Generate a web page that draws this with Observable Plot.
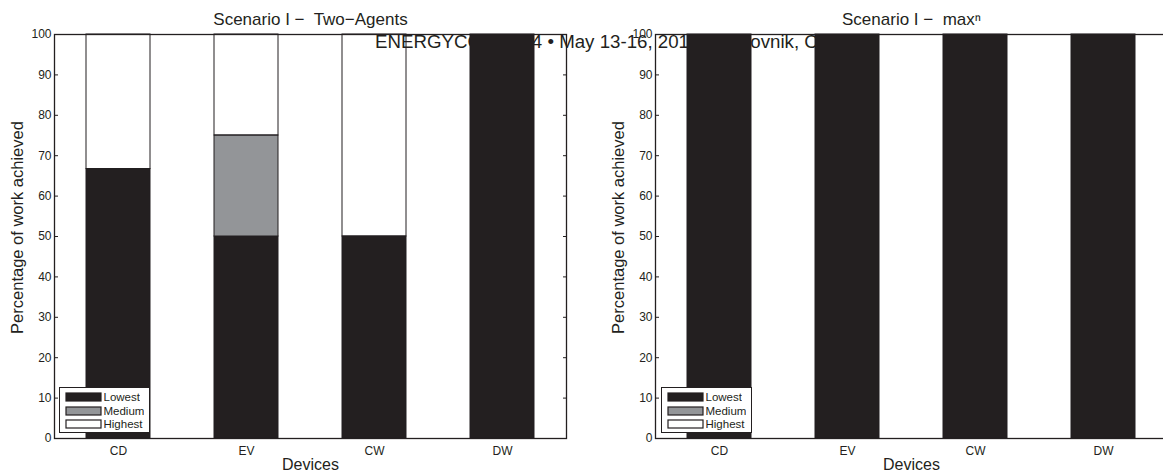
<!DOCTYPE html>
<html>
<head>
<meta charset="utf-8">
<script src="https://cdn.jsdelivr.net/npm/d3@7"></script>
<script src="https://cdn.jsdelivr.net/npm/@observablehq/plot@0.6"></script>
<style>
  html, body { margin: 0; padding: 0; background: #fff; overflow: hidden; }
  #wrap { position: relative; width: 1163px; height: 475px; overflow: hidden; font-family: "Liberation Sans", Arial, sans-serif; }
  #header { position: absolute; left: 375px; top: 32px; font-size: 18.7px; line-height: 19px; color: #231f20; white-space: pre; z-index: 0; }
  .panel { position: absolute; top: 0; z-index: 1; }
  .leg { position: absolute; top: 387px; width: 91px; height: 46px; box-sizing: border-box; border: 1.5px solid #231f20; background: #fff; padding: 3px 0 0 5.5px; z-index: 2; }
  .leg * { font-family: "Liberation Sans", Arial, sans-serif !important; font-size: 11.5px !important; color: #231f20; margin: 0 !important; }
  .leg svg { stroke: #231f20; stroke-width: 1.2px; margin-right: 3px !important; }
  .leg div, .leg span { line-height: 12.6px; }
</style>
</head>
<body>
<div id="wrap">
  <div id="header">ENERGYCON 2014 • May 13-16, 2014, Dubrovnik, Croatia</div>
</div>
<script>
const devices = ["CD", "EV", "CW", "DW"];
const levels = ["Lowest", "Medium", "Highest"];
const levelColors = ["#231f20", "#939598", "#ffffff"];
const yTicks = [0, 10, 20, 30, 40, 50, 60, 70, 80, 90, 100];

// Scenario I – Two-Agents
const twoAgentsLowest  = [66.7, 50, 50, 100];
const twoAgentsMedium  = [0, 25, 0, 0];
const twoAgentsHighest = [33.3, 25, 50, 0];

// Scenario I – max^n
const maxnLowest  = [100, 100, 100, 100];
const maxnMedium  = [0, 0, 0, 0];
const maxnHighest = [0, 0, 0, 0];

const titles = ["Scenario I \u2212  Two\u2212Agents", "Scenario I \u2212  max\u207F"];
const yLabel = "Percentage of work achieved";
const xLabel = "Devices";

const ink = "#231f20";
const font = "'Liberation Sans', Arial, sans-serif";

function panel(title, lowest, medium, highest) {
  const series = [lowest, medium, highest];
  const data = levels.flatMap((level, j) => devices.map((device, i) => ({device, level, value: series[j][i]})));
  return Plot.plot({
    width: 596, height: 475,
    marginLeft: 54, marginRight: 30, marginTop: 34, marginBottom: 37,
    style: `background: transparent; max-width: none; overflow: visible; font-family: ${font}; font-size: 12px; color: ${ink};`,
    x: {domain: devices, paddingInner: 0.5, paddingOuter: 0.25, label: null},
    y: {domain: [0, 100], label: null},
    color: {domain: levels, range: levelColors},
    opacity: {domain: [0, 1], range: [0, 1]},
    marks: [
      Plot.barY(data, Plot.stackY({
        x: "device", y: "value", fill: "level",
        fillOpacity: d => d.level === "Highest" ? 0 : 1,
        stroke: ink, strokeWidth: 1
      })),
      Plot.frame({stroke: ink, strokeWidth: 1.3}),
      Plot.axisY({ticks: yTicks, tickSize: -4, tickPadding: 7, label: null, stroke: ink, color: ink}),
      Plot.axisY({ticks: yTicks, anchor: "right", tickSize: -4, tickFormat: () => "", label: null, stroke: ink}),
      Plot.axisX({tickSize: 0, tickPadding: 8, label: null, color: ink}),
      Plot.text([title], {text: d => d, frameAnchor: "top", lineAnchor: "middle", dy: -14.5, fontSize: 17, fill: ink}),
      Plot.text([yLabel], {text: d => d, frameAnchor: "left", textAnchor: "middle", lineAnchor: "middle", rotate: -90, dx: -37, dy: -9, fontSize: 16.5, fill: ink}),
      Plot.text([xLabel], {text: d => d, frameAnchor: "bottom", lineAnchor: "middle", dy: 26, fontSize: 16, fill: ink})
    ]
  });
}

const wrap = document.getElementById("wrap");
const specs = [
  {left: 0, title: titles[0], s: [twoAgentsLowest, twoAgentsMedium, twoAgentsHighest], legLeft: 59},
  {left: 601, title: titles[1], s: [maxnLowest, maxnMedium, maxnHighest], legLeft: 661}
];
for (const sp of specs) {
  const p = panel(sp.title, ...sp.s);
  const holder = document.createElement("div");
  holder.className = "panel";
  holder.style.left = sp.left + "px";
  holder.appendChild(p);
  wrap.appendChild(holder);
  const leg = document.createElement("div");
  leg.className = "leg";
  leg.style.left = sp.legLeft + "px";
  leg.appendChild(p.legend("color", {columns: 1, swatchWidth: 35, swatchHeight: 8, className: "lg"}));
  wrap.appendChild(leg);
}
</script>
</body>
</html>
